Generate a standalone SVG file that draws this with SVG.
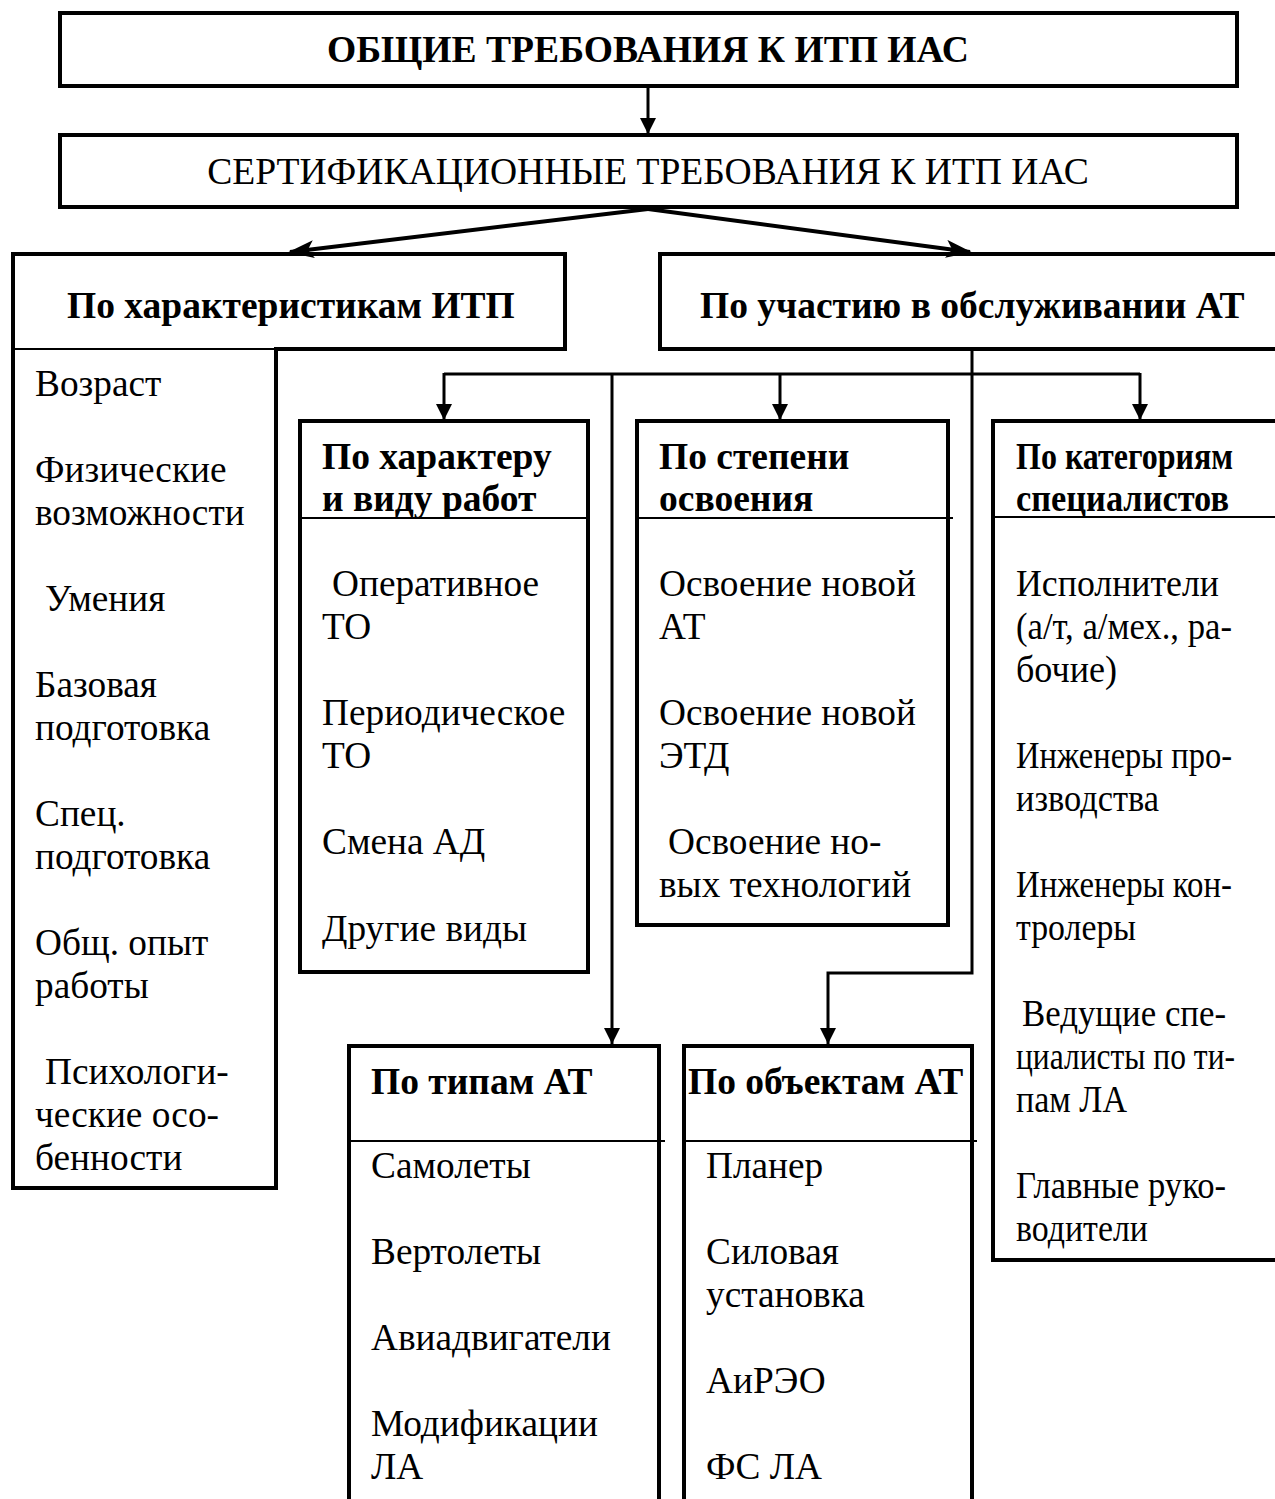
<svg xmlns="http://www.w3.org/2000/svg" width="1275" height="1499" viewBox="0 0 1275 1499">
<style>
  text { font-family: "Liberation Serif", "Times New Roman", serif; font-size: 37.3px; fill: #000; }
  .b { font-weight: bold; font-size: 37.5px; }
  .title { font-size: 37.6px; }
  .box { fill: #fff; stroke: #000; stroke-width: 4; }
  .sep { stroke: #000; stroke-width: 2; fill: none; }
  .con { stroke: #000; stroke-width: 3; fill: none; }
  .thick { stroke: #000; stroke-width: 4; fill: none; }
</style>
<defs>
  <marker id="ah" markerUnits="userSpaceOnUse" markerWidth="16" markerHeight="16" refX="16" refY="8" orient="auto">
    <path d="M0,0 L16,8 L0,16 z" fill="#000"/>
  </marker>
  <marker id="ahd" markerUnits="userSpaceOnUse" markerWidth="26" markerHeight="18" refX="24" refY="9" orient="auto">
    <path d="M0,0 L26,9 L0,18 L6,9 z" fill="#000"/>
  </marker>
</defs>
<rect width="1275" height="1499" fill="#fff"/>

<g id="node-general">
  <rect class="box" x="60" y="13" width="1177" height="73"/>
  <text class="b title" x="648" y="62" text-anchor="middle">ОБЩИЕ ТРЕБОВАНИЯ К ИТП ИАС</text>
</g>

<g id="node-cert">
  <rect class="box" x="60" y="135" width="1177" height="72"/>
  <text class="title" x="648" y="184" text-anchor="middle">СЕРТИФИКАЦИОННЫЕ ТРЕБОВАНИЯ К ИТП ИАС</text>
</g>

<g id="node-itp">
  <path class="box" d="M13,254 H565 V349 H276 V1188 H13 Z"/>
  <line class="sep" x1="13" y1="349" x2="276" y2="349"/>
  <text class="b" x="67" y="318">По характеристикам ИТП</text>
  <text x="35" y="396">Возраст</text>
  <text x="35" y="482">Физические</text>
  <text x="35" y="525">возможности</text>
  <text x="45" y="611">Умения</text>
  <text x="35" y="697">Базовая</text>
  <text x="35" y="740">подготовка</text>
  <text x="35" y="826">Спец.</text>
  <text x="35" y="869">подготовка</text>
  <text x="35" y="955">Общ. опыт</text>
  <text x="35" y="998">работы</text>
  <text x="45" y="1084">Психологи-</text>
  <text x="35" y="1127">ческие осо-</text>
  <text x="35" y="1170">бенности</text>
</g>

<g id="node-participation">
  <rect class="box" x="660" y="254" width="625" height="95"/>
  <text class="b" x="700" y="318">По участию в обслуживании АТ</text>
</g>

<g id="node-work">
  <rect class="box" x="300" y="421" width="288" height="551"/>
  <line class="sep" x1="300" y1="518" x2="588" y2="518"/>
  <text class="b" x="322" y="469">По характеру</text>
  <text class="b" x="322" y="511">и виду работ</text>
  <text x="332" y="596">Оперативное</text>
  <text x="322" y="639">ТО</text>
  <text x="322" y="725">Периодическое</text>
  <text x="322" y="768">ТО</text>
  <text x="322" y="854">Смена АД</text>
  <text x="322" y="941">Другие виды</text>
</g>

<g id="node-mastery">
  <rect class="box" x="637" y="421" width="311" height="504"/>
  <line class="sep" x1="637" y1="518" x2="953" y2="518"/>
  <text class="b" x="659" y="469">По степени</text>
  <text class="b" x="659" y="511">освоения</text>
  <text x="659" y="596">Освоение новой</text>
  <text x="659" y="639">АТ</text>
  <text x="659" y="725">Освоение новой</text>
  <text x="659" y="768">ЭТД</text>
  <text x="668" y="854">Освоение но-</text>
  <text x="659" y="897">вых технологий</text>
</g>

<g id="node-categories">
  <rect class="box" x="993" y="421" width="292" height="839"/>
  <line class="sep" x1="993" y1="517" x2="1285" y2="517"/>
  <text class="b" x="1016" y="469" textLength="217" lengthAdjust="spacingAndGlyphs">По категориям</text>
  <text class="b" x="1016" y="511" textLength="213" lengthAdjust="spacingAndGlyphs">специалистов</text>
  <text x="1016" y="596" textLength="203" lengthAdjust="spacingAndGlyphs">Исполнители</text>
  <text x="1016" y="639" textLength="216" lengthAdjust="spacingAndGlyphs">(а/т, а/мех., ра-</text>
  <text x="1016" y="682" textLength="101" lengthAdjust="spacingAndGlyphs">бочие)</text>
  <text x="1016" y="768" textLength="216" lengthAdjust="spacingAndGlyphs">Инженеры про-</text>
  <text x="1016" y="811" textLength="143" lengthAdjust="spacingAndGlyphs">изводства</text>
  <text x="1016" y="897" textLength="216" lengthAdjust="spacingAndGlyphs">Инженеры кон-</text>
  <text x="1016" y="940" textLength="120" lengthAdjust="spacingAndGlyphs">тролеры</text>
  <text x="1022" y="1026" textLength="204" lengthAdjust="spacingAndGlyphs">Ведущие спе-</text>
  <text x="1016" y="1069" textLength="219" lengthAdjust="spacingAndGlyphs">циалисты по ти-</text>
  <text x="1016" y="1112" textLength="111" lengthAdjust="spacingAndGlyphs">пам ЛА</text>
  <text x="1016" y="1198" textLength="210" lengthAdjust="spacingAndGlyphs">Главные руко-</text>
  <text x="1016" y="1241" textLength="132" lengthAdjust="spacingAndGlyphs">водители</text>
</g>

<g id="node-types">
  <path class="box" d="M349,1515 V1046 H659 V1515"/>
  <line class="sep" x1="349" y1="1141" x2="665" y2="1141"/>
  <text class="b" x="371" y="1094">По типам АТ</text>
  <text x="371" y="1178">Самолеты</text>
  <text x="371" y="1264">Вертолеты</text>
  <text x="371" y="1350">Авиадвигатели</text>
  <text x="371" y="1436">Модификации</text>
  <text x="371" y="1479">ЛА</text>
</g>

<g id="node-objects">
  <path class="box" d="M684,1515 V1046 H972 V1515"/>
  <line class="sep" x1="684" y1="1141" x2="977" y2="1141"/>
  <text class="b" x="688" y="1094">По объектам АТ</text>
  <text x="706" y="1178">Планер</text>
  <text x="706" y="1264">Силовая</text>
  <text x="706" y="1307">установка</text>
  <text x="706" y="1393">АиРЭО</text>
  <text x="706" y="1479">ФС ЛА</text>
</g>

<g id="connectors">
  <line class="con" x1="648" y1="87" x2="648" y2="134" marker-end="url(#ah)"/>
  <line class="thick" x1="648" y1="209" x2="290" y2="252" marker-end="url(#ahd)"/>
  <line class="thick" x1="648" y1="209" x2="970" y2="252" marker-end="url(#ahd)"/>
  <line class="con" x1="444" y1="374" x2="1140" y2="374"/>
  <line class="con" x1="444" y1="373" x2="444" y2="420" marker-end="url(#ah)"/>
  <line class="con" x1="780" y1="374" x2="780" y2="420" marker-end="url(#ah)"/>
  <line class="con" x1="1140" y1="373" x2="1140" y2="420" marker-end="url(#ah)"/>
  <line class="con" x1="612" y1="374" x2="612" y2="1044" marker-end="url(#ah)"/>
  <polyline class="con" points="972,351 972,973 828,973 828,1044" marker-end="url(#ah)"/>
</g>
</svg>
